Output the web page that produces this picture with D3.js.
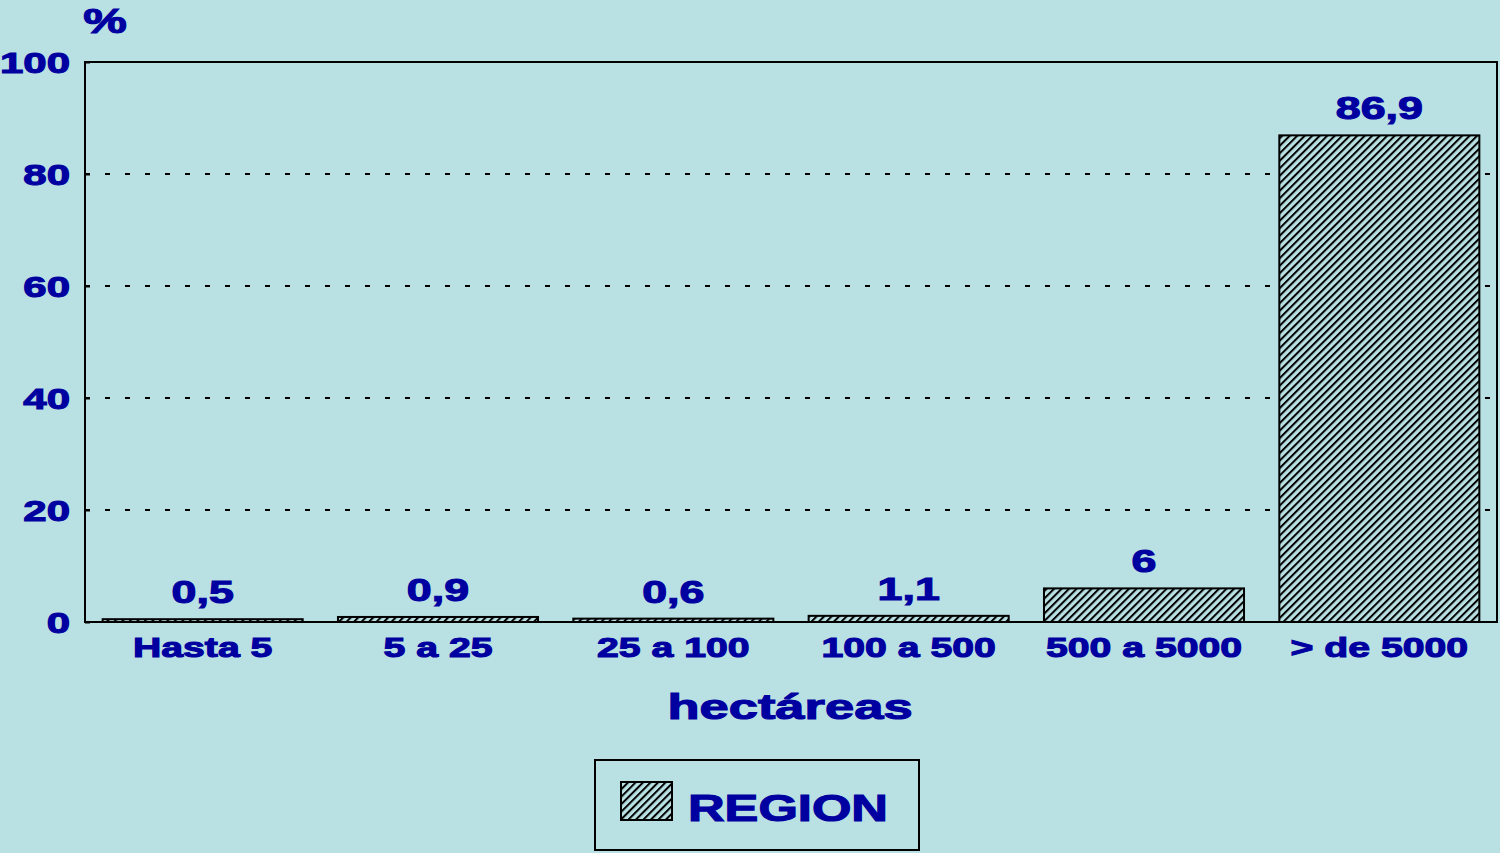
<!DOCTYPE html>
<html>
<head>
<meta charset="utf-8">
<script src="https://cdn.jsdelivr.net/npm/d3@7"></script>
<style>
  html, body { margin: 0; padding: 0; background: #b9e0e3; }
  svg { display: block; }
  text { font-family: "Liberation Sans", Arial, sans-serif; font-weight: bold; fill: #0000a0; stroke: #0000a0; stroke-width: 1.1px; }
</style>
</head>
<body>
<svg id="chart" width="1500" height="853"></svg>
<script>
const categories = ["Hasta 5", "5 a 25", "25 a 100", "100 a 500", "500 a 5000", "> de 5000"];
const values = [0.5, 0.9, 0.6, 1.1, 6, 86.9];
const valueLabels = ["0,5", "0,9", "0,6", "1,1", "6", "86,9"];
const yTicks = [0, 20, 40, 60, 80, 100];
const seriesName = "REGION";
const xTitle = "hectáreas";
const yTitle = "%";

const SX = 1.4; // horizontal stretch of the lettering
const svg = d3.select("#chart");
const W = 1500, H = 853;
const plot = { left: 85, right: 1497, top: 62, bottom: 622 };

svg.append("rect").attr("width", W).attr("height", H).attr("fill", "#b9e0e3");

const defs = svg.append("defs");
const pat = defs.append("pattern")
  .attr("id", "hatch").attr("patternUnits", "userSpaceOnUse")
  .attr("width", 5.3).attr("height", 10)
  .attr("patternTransform", "rotate(45)");
pat.append("rect").attr("width", 5.3).attr("height", 10).attr("fill", "#b9e0e3");
pat.append("line").attr("x1", 1).attr("y1", 0).attr("x2", 1).attr("y2", 10)
  .attr("stroke", "#000").attr("stroke-width", 2);

const x = d3.scaleBand().domain(categories)
  .range([plot.left, plot.right]).paddingInner(0.15).paddingOuter(0.075);
const y = d3.scaleLinear().domain([0, 100]).range([plot.bottom, plot.top]);

// gridlines
svg.append("g").selectAll("line").data(yTicks.filter(t => t > 0 && t < 100)).join("line")
  .attr("x1", plot.left).attr("x2", plot.right)
  .attr("y1", d => y(d)).attr("y2", d => y(d))
  .attr("stroke", "#000").attr("stroke-width", 2).attr("stroke-dasharray", "5,15");

// frame
svg.append("rect")
  .attr("x", plot.left).attr("y", plot.top)
  .attr("width", plot.right - plot.left).attr("height", plot.bottom - plot.top)
  .attr("fill", "none").attr("stroke", "#000").attr("stroke-width", 2);

// y axis
const yAxis = d3.axisLeft(y).tickValues(yTicks).tickSize(-5).tickPadding(0).tickFormat(d => d);
const yg = svg.append("g").attr("transform", `translate(${plot.left},0)`).call(yAxis);
yg.select(".domain").remove();
yg.selectAll(".tick line").attr("stroke", "#000").attr("stroke-width", 2);
yg.selectAll(".tick text").remove();
yg.selectAll(".tick").append("text")
  .attr("text-anchor", "end").attr("dy", "0.36em")
  .attr("transform", `translate(-15,0) scale(${SX},1)`)
  .style("font-size", "30px")
  .text(d => d);

// bars
svg.append("g").selectAll("rect").data(values).join("rect")
  .attr("x", (d, i) => x(categories[i]))
  .attr("y", d => y(d))
  .attr("width", x.bandwidth())
  .attr("height", d => y(0) - y(d))
  .attr("fill", "url(#hatch)").attr("stroke", "#000").attr("stroke-width", 2);

// value labels
svg.append("g").selectAll("text").data(values).join("text")
  .attr("text-anchor", "middle")
  .attr("transform", (d, i) => `translate(${x(categories[i]) + x.bandwidth() / 2},${y(d) - 16}) scale(${SX},1)`)
  .style("font-size", "32px")
  .text((d, i) => valueLabels[i]);

// x axis labels
const xAxis = d3.axisBottom(x).tickSize(0).tickPadding(0);
const xg = svg.append("g").attr("transform", `translate(0,${plot.bottom})`).call(xAxis);
xg.select(".domain").remove();
xg.selectAll(".tick text").remove();
xg.selectAll(".tick").append("text")
  .attr("text-anchor", "middle")
  .attr("transform", `translate(0,35) scale(${SX},1)`)
  .style("font-size", "28px")
  .text(d => d);

// axis titles
svg.append("text").attr("text-anchor", "middle")
  .attr("transform", `translate(${(plot.left + plot.right) / 2 - 1},719) scale(1.5,1)`)
  .style("font-size", "35px").text(xTitle);
svg.append("text").attr("text-anchor", "middle")
  .attr("transform", `translate(105,33) scale(${SX},1)`)
  .style("font-size", "35px").text(yTitle);

// legend
const lg = svg.append("g");
lg.append("rect").attr("x", 595).attr("y", 760).attr("width", 324).attr("height", 90)
  .attr("fill", "#b9e0e3").attr("stroke", "#000").attr("stroke-width", 2);
lg.append("rect").attr("x", 621).attr("y", 782).attr("width", 51).attr("height", 38)
  .attr("fill", "url(#hatch)").attr("stroke", "#000").attr("stroke-width", 2);
lg.append("text").attr("transform", `translate(688,821) scale(1.37,1)`)
  .style("font-size", "37px").text(seriesName);
</script>
</body>
</html>
